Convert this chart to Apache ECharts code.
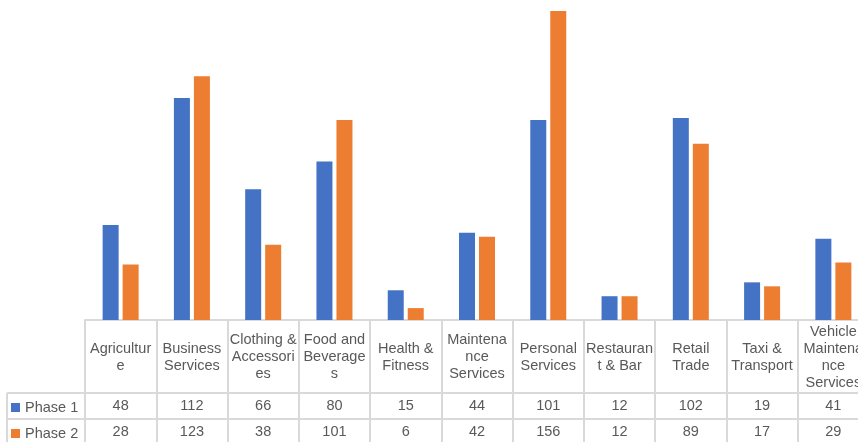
<!DOCTYPE html>
<html><head><meta charset="utf-8">
<script src="https://cdn.jsdelivr.net/npm/echarts@6/dist/echarts.min.js"></script>
<style>html,body{margin:0;padding:0;background:#fff}#c{width:858px;height:442px}</style>
</head><body><div id="c"></div>
<script>
const categories = ['Agricultur\ne', 'Business\nServices', 'Clothing &\nAccessori\nes', 'Food and\nBeverage\ns', 'Health &\nFitness', 'Maintena\nnce\nServices', 'Personal\nServices', 'Restauran\nt & Bar', 'Retail\nTrade', 'Taxi &\nTransport', 'Vehicle\nMaintena\nnce\nServices'];
const phase1 = [48, 112, 66, 80, 15, 44, 101, 12, 102, 19, 41];
const phase2 = [28, 123, 38, 101, 6, 42, 156, 12, 89, 17, 29];
const seriesNames = ['Phase 1', 'Phase 2'];
const seriesColors = ['#4472C4', '#ED7D31'];

const chart = echarts.init(document.getElementById('c'), null, {renderer: 'canvas'});
const lineColor = '#d9d9d9';
const font = "'Liberation Sans', Arial, sans-serif";
const textColor = '#595959';
const fs = 14.5;

function valueAxis(offset, values) {
  return {
    type: 'category', data: categories, position: 'bottom', offset: offset,
    axisLine: {show: true, lineStyle: {color: lineColor, width: 2}},
    axisTick: {show: false},
    axisLabel: {interval: 0, formatter: (v, i) => String(values[i]), margin: 13, verticalAlign: 'middle',
      fontSize: fs, color: textColor, fontFamily: font, hideOverlap: false},
    splitLine: {show: false}
  };
}

const option = {
  animation: false,
  grid: {left: 85, top: 3, width: 784, height: 317, containLabel: false, outerBoundsMode: 'none'},
  legend: {
    data: seriesNames, orient: 'vertical', left: 11, top: 400, padding: 0,
    itemWidth: 9, itemHeight: 9, itemGap: 11, icon: 'rect',
    textStyle: {fontSize: fs, color: textColor, fontFamily: font, lineHeight: 14}
  },
  xAxis: [
    {
      type: 'category', data: categories, position: 'bottom',
      axisLine: {show: true, lineStyle: {color: lineColor, width: 2}},
      axisTick: {show: true, interval: 0, length: 130, lineStyle: {color: lineColor, width: 2}},
      axisLabel: {interval: 0, margin: 37, verticalAlign: 'middle', lineHeight: 17,
        fontSize: fs, color: textColor, fontFamily: font, hideOverlap: false}
    },
    valueAxis(73, phase1),
    valueAxis(99, phase2)
  ],
  yAxis: {type: 'value', min: 0, max: 160, show: false},
  series: [
    {name: seriesNames[0], type: 'bar', data: phase1, barWidth: 16, barGap: '25%', itemStyle: {color: seriesColors[0]}},
    {name: seriesNames[1], type: 'bar', data: phase2, barWidth: 16, barGap: '25%', itemStyle: {color: seriesColors[1]}}
  ],
  graphic: [
    {type: 'line', shape: {x1: 7, y1: 393, x2: 85, y2: 393}, style: {stroke: lineColor, lineWidth: 2}},
    {type: 'line', shape: {x1: 7, y1: 419, x2: 85, y2: 419}, style: {stroke: lineColor, lineWidth: 2}},
    {type: 'line', shape: {x1: 7, y1: 393, x2: 7, y2: 442}, style: {stroke: lineColor, lineWidth: 2}}
  ]
};
chart.setOption(option);
</script></body></html>
